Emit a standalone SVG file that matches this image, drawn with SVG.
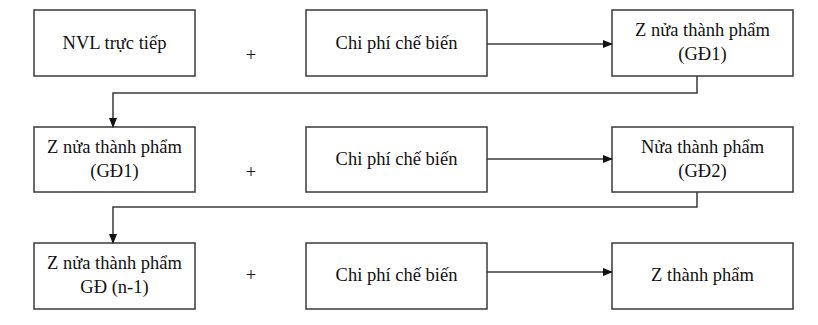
<svg xmlns="http://www.w3.org/2000/svg" width="818" height="325" viewBox="0 0 818 325">
<style>
.box{fill:#fff;stroke:#3a3a3a;stroke-width:1.5}
.t{font-family:'Liberation Serif','Times New Roman',serif;font-size:18.5px;fill:#111;text-anchor:middle}
.c{fill:none;stroke:#3a3a3a;stroke-width:1.5}
</style>
<defs>
<marker id="ah" markerWidth="10" markerHeight="8" refX="9" refY="4" orient="auto" markerUnits="userSpaceOnUse">
<path d="M0,0 L10,4 L0,8 Z" fill="#111"/>
</marker>
</defs>
<rect width="818" height="325" fill="#fff"/>
<g font-family="'Liberation Serif', 'Times New Roman', serif">
<g id="n1"><rect class="box" x="34" y="10" width="161" height="66"/><text class="t" x="114.5" y="49">NVL trực tiếp</text></g>
<g id="n2"><rect class="box" x="306" y="10" width="181" height="66"/><text class="t" x="396.5" y="49">Chi phí chế biến</text></g>
<g id="n3"><rect class="box" x="612" y="10" width="181" height="66"/><text class="t" x="702.5" y="36">Z nửa thành phẩm</text><text class="t" x="702.5" y="60">(GĐ1)</text></g>
<g id="n4"><rect class="box" x="34" y="127" width="161" height="65"/><text class="t" x="114.5" y="153">Z nửa thành phẩm</text><text class="t" x="114.5" y="177">(GĐ1)</text></g>
<g id="n5"><rect class="box" x="306" y="127" width="181" height="65"/><text class="t" x="396.5" y="165">Chi phí chế biến</text></g>
<g id="n6"><rect class="box" x="612" y="127" width="181" height="65"/><text class="t" x="702.5" y="153">Nửa thành phẩm</text><text class="t" x="702.5" y="177">(GĐ2)</text></g>
<g id="n7"><rect class="box" x="34" y="243" width="161" height="66"/><text class="t" x="114.5" y="269">Z nửa thành phẩm</text><text class="t" x="114.5" y="293">GĐ (n-1)</text></g>
<g id="n8"><rect class="box" x="306" y="243" width="181" height="66"/><text class="t" x="396.5" y="281">Chi phí chế biến</text></g>
<g id="n9"><rect class="box" x="612" y="243" width="181" height="66"/><text class="t" x="702.5" y="281">Z thành phẩm</text></g>
<g id="plus">
<text class="t" x="251" y="61">+</text>
<text class="t" x="251" y="178">+</text>
<text class="t" x="251" y="281">+</text>
</g>
</g>
<g id="connectors">
<line class="c" x1="487" y1="44" x2="612" y2="44" marker-end="url(#ah)"/>
<line class="c" x1="487" y1="159" x2="612" y2="159" marker-end="url(#ah)"/>
<line class="c" x1="487" y1="272" x2="612" y2="272" marker-end="url(#ah)"/>
<polyline class="c" points="697,76 697,93 113,93 113,127" marker-end="url(#ah)"/>
<polyline class="c" points="697,192 697,207 113,207 113,243" marker-end="url(#ah)"/>
</g>
</svg>
